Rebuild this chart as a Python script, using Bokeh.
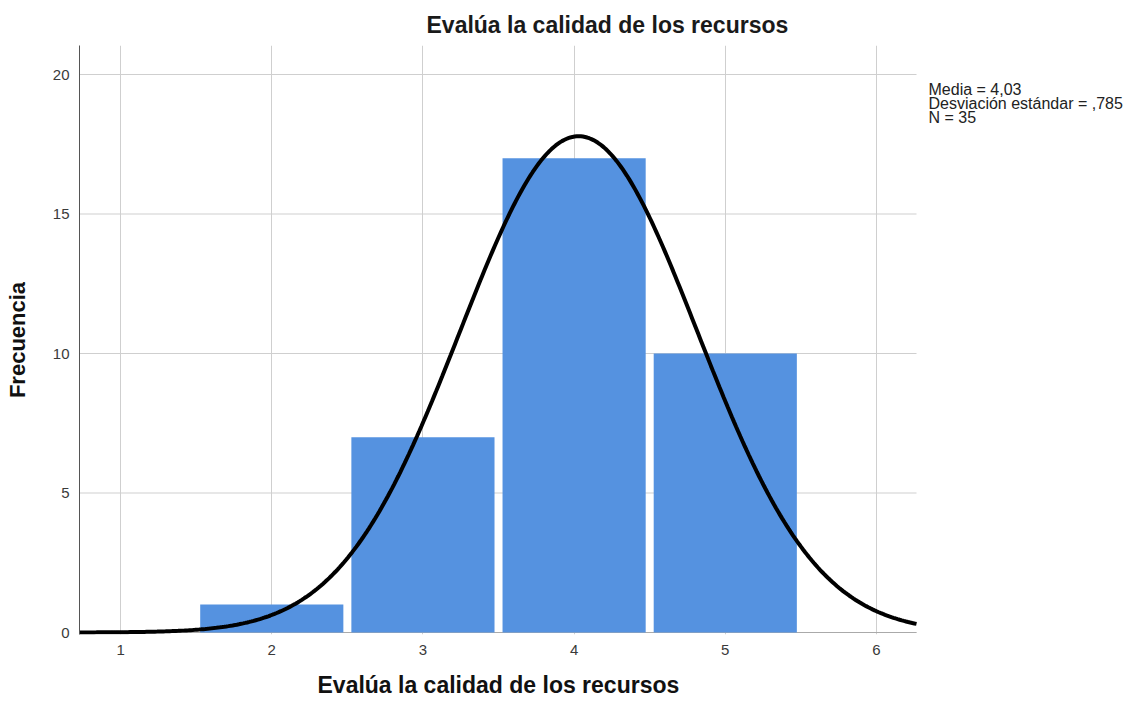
import numpy as np
from bokeh.plotting import figure
from bokeh.models import Range1d, Label, FixedTicker, Title
from bokeh.embed import file_html
from bokeh.resources import INLINE

# Data
bin_centers = [2, 3, 4, 5]
frequencies = [1, 7, 17, 10]
mean_val = 4.03
sd_val = 0.785
n_val = 35
x_ticks = [1, 2, 3, 4, 5, 6]
y_ticks = [0, 5, 10, 15, 20]
title_text = "Evalúa la calidad de los recursos"
x_label_text = "Evalúa la calidad de los recursos"
y_label_text = "Frecuencia"
stats_lines = ["Media = 4,03", "Desviación estándar = ,785", "N = 35"]

FONT = "Liberation Sans"
# visible plotting area in data units
X0, X1 = 0.728, 6.265
Y0, Y1 = 0, 21.04
px_x = (X1 - X0) / 837.0
px_y = (Y1 - Y0) / 587.0
FRAME_W = 1044
FRAME_H = 589

p = figure(frame_width=FRAME_W, frame_height=FRAME_H, output_backend="svg",
           toolbar_location=None,
           x_range=Range1d(X0, X0 + FRAME_W * px_x),
           y_range=Range1d(Y0 - 2 * px_y, Y1),
           min_border_left=79, min_border_right=0, min_border_top=45,
           min_border_bottom=69)
p.outline_line_color = None
p.background_fill_color = "white"

# title
p.title.text = title_text
p.title.align = "left"
p.title.offset = 347
p.title.standoff = 16
p.title.text_font = FONT
p.title.text_font_size = "23px"
p.title.text_font_style = "bold"
p.title.text_color = "#1a1a1a"

# grid
p.xgrid.ticker = FixedTicker(ticks=x_ticks)
p.xgrid.grid_line_color = "#cfcfcf"
p.ygrid.grid_line_color = None
p.segment(x0=[X0] * len(y_ticks), x1=[X1] * len(y_ticks), y0=y_ticks, y1=y_ticks,
          line_color="#cfcfcf", line_width=1)

# axes
p.xaxis.ticker = FixedTicker(ticks=x_ticks)
p.yaxis.ticker = FixedTicker(ticks=y_ticks)
for ax in (p.xaxis[0], p.yaxis[0]):
    ax.major_tick_line_color = None
    ax.minor_tick_line_color = None
    ax.major_label_text_font = FONT
    ax.major_label_text_font_size = "15px"
    ax.major_label_text_color = "#3a3a3a"
    ax.axis_label_text_font = FONT
    ax.axis_label_text_font_style = "bold"
    ax.axis_label_text_color = "#111111"
p.xaxis.axis_line_color = None
p.yaxis.axis_line_color = "#555555"
p.xaxis.major_label_standoff = 4
p.yaxis.major_label_standoff = 4
p.yaxis.axis_label = y_label_text
p.yaxis.axis_label_text_font_size = "22px"
p.yaxis.axis_label_standoff = 20

# x axis label, centred under the plotting area
xlab = Title(text=x_label_text, align="left", offset=238, standoff=25,
             text_font=FONT, text_font_size="23px", text_font_style="bold",
             text_color="#111111")
p.add_layout(xlab, "below")

# x axis baseline
p.segment(x0=[X0], x1=[X1], y0=[0], y1=[0], line_color="#aaaaaa", line_width=1)

# bars
p.vbar(x=bin_centers, top=frequencies, bottom=0, width=0.947,
       fill_color="#5592E0", line_color=None)

# normal curve from the stats
xs = np.linspace(X0, X1, 400)
ys = n_val / (sd_val * np.sqrt(2 * np.pi)) * np.exp(-0.5 * ((xs - mean_val) / sd_val) ** 2)
p.line(xs, ys, line_color="black", line_width=4)

# stats text
for i, t in enumerate(stats_lines):
    p.add_layout(Label(x=X1 + 12 * px_x, y=(543 - i * 14) * px_y, text=t,
                       text_font=FONT, text_font_size="16px",
                       text_color="#222222", text_baseline="alphabetic"))

open("out.html", "w").write(file_html(p, INLINE))
